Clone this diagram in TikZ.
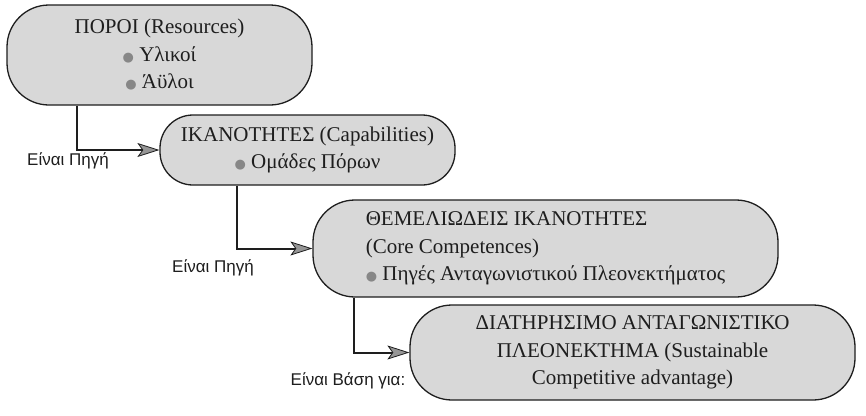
\documentclass[tikz,border=0pt]{standalone}
\usepackage{fontspec}
\setmainfont{Liberation Serif}
\newfontfamily\labelfont{Liberation Sans}
\newfontfamily\symfont{DejaVu Sans}
\usetikzlibrary{arrows.meta}
\definecolor{boxfill}{RGB}{216,216,216}
\definecolor{tipfill}{RGB}{150,150,150}
\definecolor{bulletc}{RGB}{135,135,135}
\definecolor{inkc}{RGB}{30,30,30}
\newcommand{\gbul}{{\symfont\fontsize{13}{13}\selectfont\textcolor{bulletc}{●}}\ }
\begin{document}
\begin{tikzpicture}[x=1pt,y=-1pt,
  pill/.style={draw=inkc, line width=1.3pt, fill=boxfill, rounded corners=42pt,
    inner sep=0pt, font=\fontsize{21}{27.5}\selectfont, text=inkc},
  conn/.style={draw=inkc, line width=2pt,
    -{Stealth[length=22pt,width=14pt,inset=5pt,fill=tipfill,line width=0.8pt]}},
  lbl/.style={font=\labelfont\fontsize{17}{20}\selectfont, text=inkc}]
\useasboundingbox (0,0) rectangle (866,415);
\fill[white] (0,0) rectangle (866,415);
\node[pill, minimum width=305pt, minimum height=100pt, align=center] (b1) at (159.5,55)
  {ΠΟΡΟΙ (Resources)\\ \gbul Υλικοί\\ \gbul Άϋλοι};
\node[pill, rounded corners=33pt, minimum width=295pt, minimum height=70pt, align=center] (b2) at (307.5,150)
  {ΙΚΑΝΟΤΗΤΕΣ (Capabilities)\\ \gbul Ομάδες Πόρων};
\node[pill, minimum width=465pt, minimum height=97pt, align=left] (b3) at (545.5,248.5)
  {ΘΕΜΕΛΙΩΔΕΙΣ ΙΚΑΝΟΤΗΤΕΣ\\ (Core Competences)\\ \gbul Πηγές Ανταγωνιστικού Πλεονεκτήματος};
\node[pill, minimum width=445pt, minimum height=95pt, align=center] (b4) at (632.5,352.5)
  {ΔΙΑΤΗΡΗΣΙΜΟ ΑΝΤΑΓΩΝΙΣΤΙΚΟ\\ ΠΛΕΟΝΕΚΤΗΜΑ (Sustainable\\ Competitive advantage)};
\draw[conn] ([xshift=71pt]b1.south west) |- (b2.west);
\draw[conn] ([xshift=78pt]b2.south west) |- (b3.west);
\draw[conn] ([xshift=42pt]b3.south west) |- (b4.west);
\node[lbl] (l1) at (68,161) {Είναι Πηγή};
\node[lbl] (l2) at (213,268) {Είναι Πηγή};
\node[lbl] (l3) at (348,381) {Είναι Βάση για:};
\end{tikzpicture}
\end{document}
